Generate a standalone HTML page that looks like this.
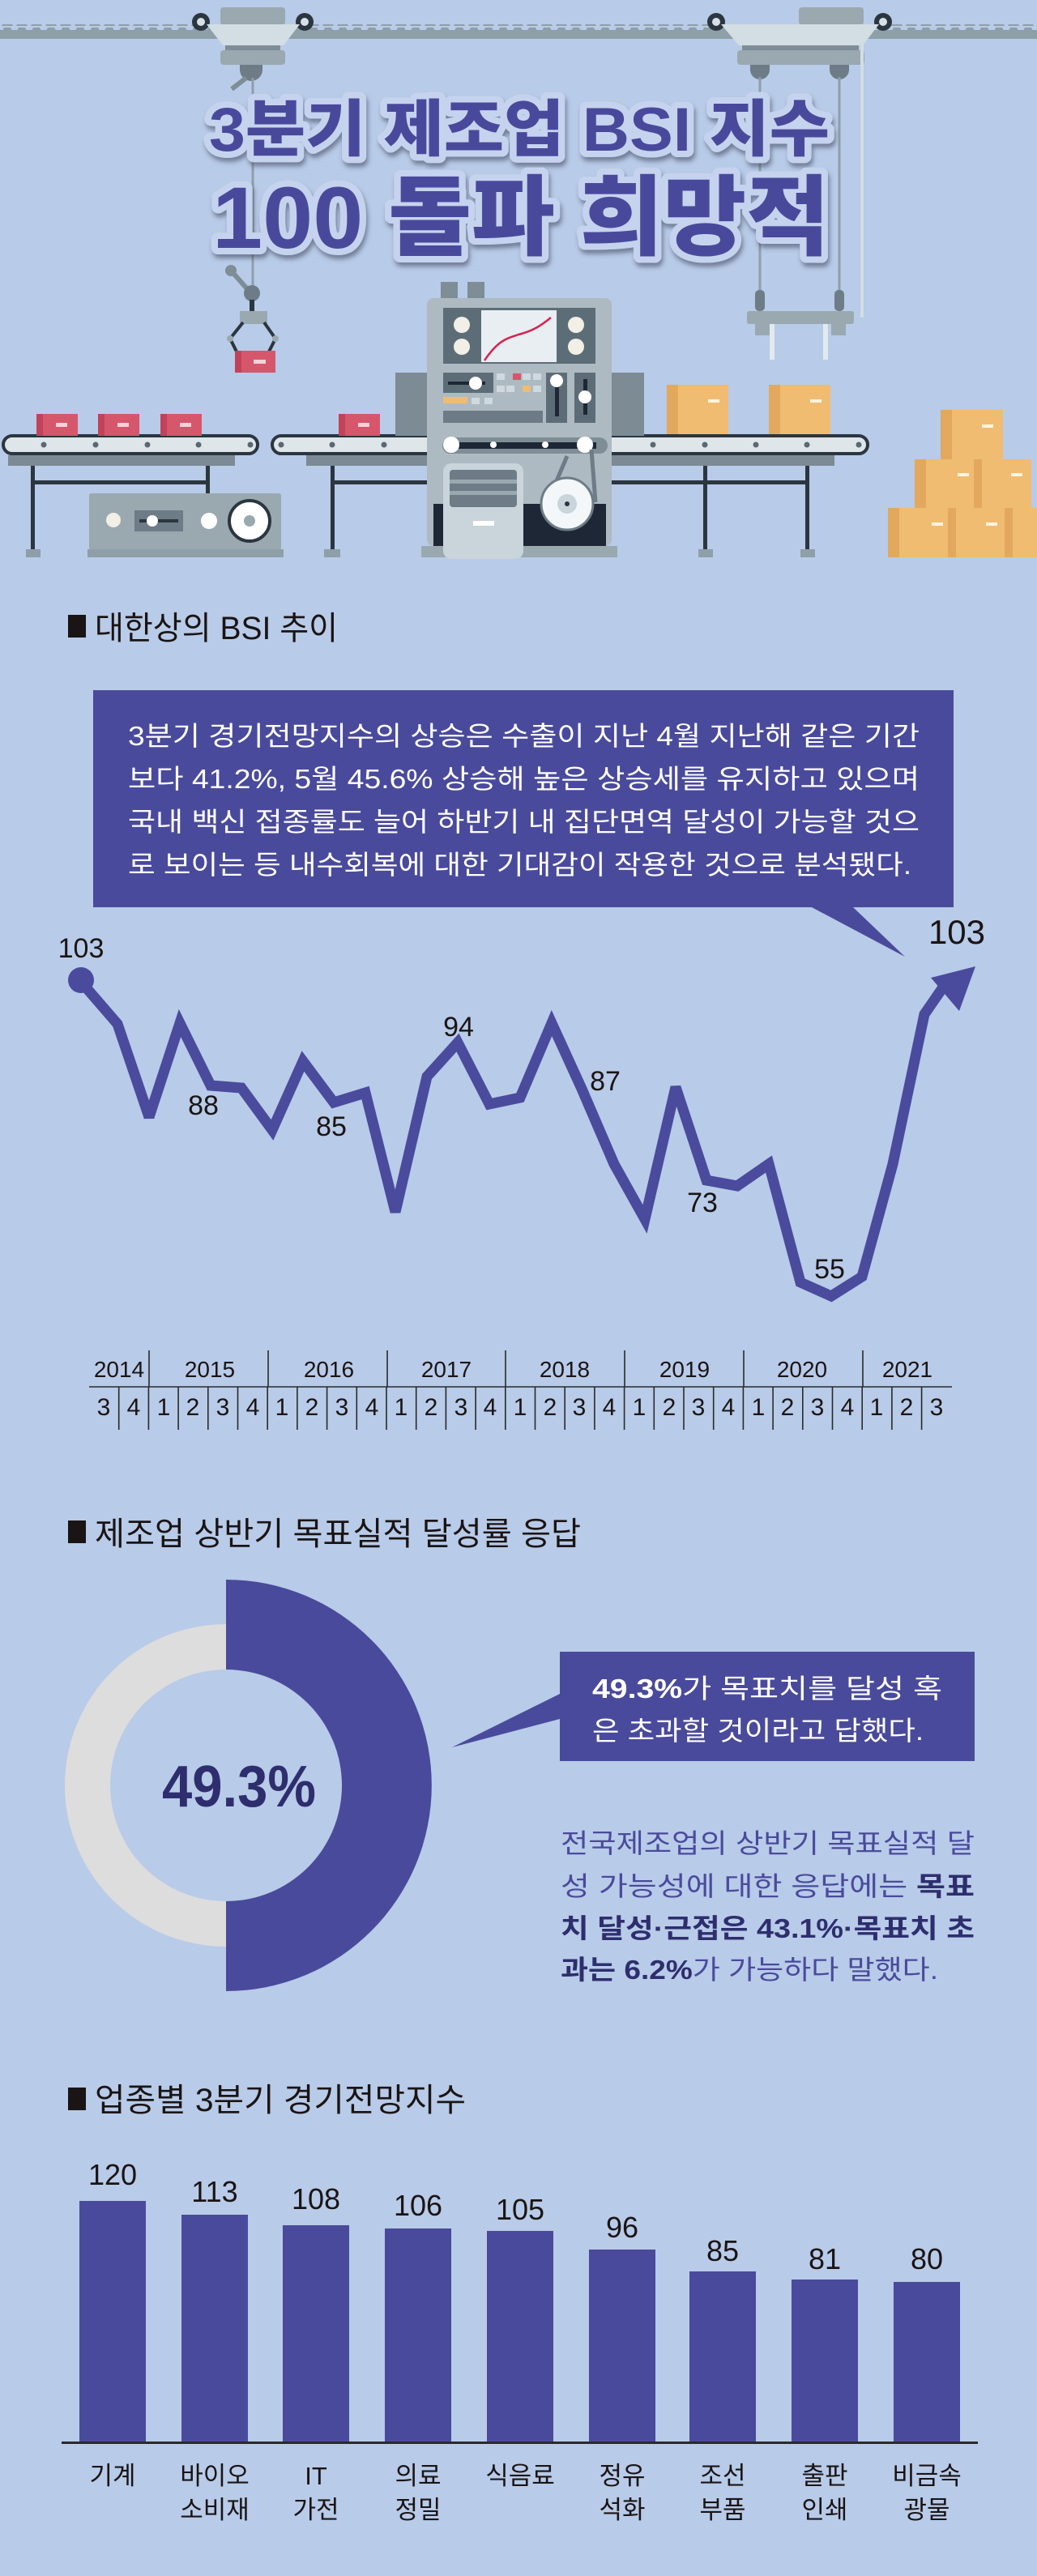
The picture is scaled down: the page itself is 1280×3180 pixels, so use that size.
<!DOCTYPE html>
<html><head><meta charset="utf-8"><style>
html,body{margin:0;padding:0;background:#b8cbe8;}
svg{display:block;}
.k{font-family:"Liberation Sans","Noto Sans CJK KR",sans-serif;}
.n{font-family:"Liberation Sans Narrow","Liberation Sans","Noto Sans CJK KR",sans-serif;}
</style></head><body>
<svg width="1280" height="3180" viewBox="0 0 1280 3180" xmlns="http://www.w3.org/2000/svg">
<defs>
<filter id="sh" x="-10%" y="-20%" width="120%" height="150%"><feDropShadow dx="2" dy="5" stdDeviation="3" flood-color="#3a3f55" flood-opacity="0.55"/></filter>
<pattern id="sc" x="0" y="0" width="18" height="8" patternUnits="userSpaceOnUse"><path d="M2 8 L5 2 L13 2 L16 8Z" fill="#8e9fa8"/></pattern>
</defs>
<rect width="1280" height="3180" fill="#b8cbe8"/>

<!-- ===== HEADER ILLUSTRATION ===== -->
<rect x="0" y="30" width="1280" height="8" fill="url(#sc)"/>
<rect x="0" y="37" width="1280" height="11" fill="#8e9fa8"/>
<!-- left trolley -->
<rect x="272" y="9" width="80" height="22" rx="4" fill="#9aa9b0"/>
<circle cx="248" cy="27" r="11" fill="#2b3640"/><circle cx="248" cy="27" r="5" fill="#d6e0e6"/>
<circle cx="376" cy="27" r="11" fill="#2b3640"/><circle cx="376" cy="27" r="5" fill="#d6e0e6"/>
<path d="M255 30 L370 30 L350 56 L275 56Z" fill="#d3dde4"/>
<rect x="278" y="56" width="68" height="6" fill="#7e8d96"/>
<rect x="272" y="62" width="80" height="18" rx="4" fill="#9aa9b0"/>
<path d="M296 80 h28 v6 a14 14 0 0 1 -28 0z" fill="#6d7c86"/>
<line x1="304" y1="96" x2="286" y2="110" stroke="#7e8d96" stroke-width="6"/>
<line x1="312" y1="96" x2="312" y2="365" stroke="#8e9fa8" stroke-width="3"/>
<circle cx="285" cy="334" r="7" fill="#7e8d96"/>
<line x1="286" y1="335" x2="308" y2="360" stroke="#7e8d96" stroke-width="6"/>
<circle cx="311" cy="362" r="10" fill="#6d7c86"/>
<rect x="308" y="370" width="6" height="14" fill="#2b3640"/>
<rect x="296" y="384" width="34" height="16" fill="#9aa9b0"/>
<path d="M300 398 L284 418 L295 440 M326 398 L340 418 L330 438" fill="none" stroke="#2b3640" stroke-width="4"/>
<circle cx="284" cy="418" r="4" fill="#9aa9b0"/><circle cx="340" cy="418" r="4" fill="#9aa9b0"/>
<rect x="290" y="433" width="50" height="27" fill="#d6566b"/><rect x="290" y="433" width="8" height="27" fill="#c24259"/>
<rect x="313" y="444" width="15" height="5" fill="#f4d2d8"/>
<!-- right trolley -->
<rect x="986" y="9" width="80" height="22" rx="4" fill="#9aa9b0"/>
<circle cx="884" cy="27" r="11" fill="#2b3640"/><circle cx="884" cy="27" r="5" fill="#d6e0e6"/>
<circle cx="1090" cy="27" r="11" fill="#2b3640"/><circle cx="1090" cy="27" r="5" fill="#d6e0e6"/>
<path d="M890 30 L1085 30 L1065 56 L912 56Z" fill="#d3dde4"/>
<rect x="916" y="56" width="144" height="6" fill="#7e8d96"/>
<rect x="910" y="62" width="157" height="18" rx="4" fill="#9aa9b0"/>
<path d="M926 80 h24 v6 a12 12 0 0 1 -24 0z" fill="#6d7c86"/>
<path d="M1024 80 h24 v6 a12 12 0 0 1 -24 0z" fill="#6d7c86"/>
<line x1="938" y1="95" x2="938" y2="370" stroke="#8e9fa8" stroke-width="3"/>
<line x1="1036" y1="95" x2="1036" y2="370" stroke="#8e9fa8" stroke-width="3"/>
<line x1="1064" y1="40" x2="1064" y2="392" stroke="#d3dde4" stroke-width="4"/>
<rect x="932" y="358" width="12" height="26" rx="5" fill="#6d7c86"/>
<rect x="1030" y="358" width="12" height="26" rx="5" fill="#6d7c86"/>
<rect x="922" y="384" width="132" height="16" rx="3" fill="#9aa9b0"/>
<rect x="932" y="400" width="18" height="14" fill="#9aa9b0"/><rect x="1026" y="400" width="18" height="14" fill="#9aa9b0"/>
<rect x="950" y="400" width="6" height="44" fill="#e3eaef"/><rect x="1016" y="400" width="6" height="44" fill="#e3eaef"/>

<!-- title -->
<g filter="url(#sh)" font-weight="900" class="k" fill="#4a4a9c" stroke="#c6d3ee" stroke-width="16" stroke-linejoin="round" paint-order="stroke">
<text x="258" y="186" font-size="76" textLength="766" lengthAdjust="spacingAndGlyphs">3분기 제조업 BSI 지수</text>
<text x="262" y="306" font-size="108" textLength="762" lengthAdjust="spacingAndGlyphs">100 돌파 희망적</text>
</g>

<!-- conveyors -->
<rect x="4" y="538" width="314" height="22" rx="11" fill="#dfe6ea" stroke="#2b3640" stroke-width="4"/>
<rect x="10" y="562" width="280" height="13" fill="#7b8a94"/>
<g fill="#5a6872"><circle cx="54" cy="549" r="3.5"/><circle cx="118" cy="549" r="3.5"/><circle cx="182" cy="549" r="3.5"/><circle cx="245" cy="549" r="3.5"/><circle cx="309" cy="549" r="3.5"/></g>
<rect x="38" y="575" width="5" height="108" fill="#2b3640"/><rect x="254" y="575" width="5" height="60" fill="#2b3640"/>
<rect x="40" y="593" width="218" height="5" fill="#2b3640"/>
<rect x="32" y="678" width="18" height="10" fill="#8e9fa8"/>
<rect x="110" y="609" width="237" height="70" rx="3" fill="#9aa9b0"/>
<rect x="108" y="678" width="242" height="10" fill="#8e9fa8"/>
<circle cx="140" cy="642" r="9" fill="#f1efe6"/>
<rect x="166" y="630" width="60" height="26" fill="#6d7c86"/><rect x="172" y="641" width="48" height="4" fill="#2b3640"/><circle cx="188" cy="643" r="7" fill="#fff"/>
<circle cx="308" cy="643" r="25" fill="#fff" stroke="#2b3640" stroke-width="4"/><circle cx="308" cy="643" r="7" fill="#9aa9b0"/>
<circle cx="258" cy="643" r="10" fill="#fff"/>
<rect x="336" y="538" width="735" height="22" rx="11" fill="#dfe6ea" stroke="#2b3640" stroke-width="4"/>
<rect x="378" y="562" width="652" height="13" fill="#7b8a94"/>
<g fill="#5a6872"><circle cx="347" cy="549" r="3.5"/><circle cx="410" cy="549" r="3.5"/><circle cx="474" cy="549" r="3.5"/><circle cx="806" cy="549" r="3.5"/><circle cx="870" cy="549" r="3.5"/><circle cx="933" cy="549" r="3.5"/><circle cx="996" cy="549" r="3.5"/><circle cx="1060" cy="549" r="3.5"/></g>
<rect x="408" y="575" width="5" height="108" fill="#2b3640"/><rect x="868" y="575" width="5" height="108" fill="#2b3640"/><rect x="994" y="575" width="5" height="108" fill="#2b3640"/>
<rect x="410" y="593" width="120" height="5" fill="#2b3640"/><rect x="755" y="593" width="240" height="5" fill="#2b3640"/>
<rect x="400" y="678" width="20" height="10" fill="#8e9fa8"/><rect x="862" y="678" width="18" height="10" fill="#8e9fa8"/><rect x="988" y="678" width="18" height="10" fill="#8e9fa8"/>
<!-- pink boxes -->
<g><rect x="45" y="511" width="51" height="27" fill="#d6566b"/><rect x="45" y="511" width="8" height="27" fill="#c24259"/><rect x="69" y="522" width="14" height="5" fill="#f4d2d8"/>
<rect x="121" y="511" width="51" height="27" fill="#d6566b"/><rect x="121" y="511" width="8" height="27" fill="#c24259"/><rect x="145" y="522" width="14" height="5" fill="#f4d2d8"/>
<rect x="198" y="511" width="51" height="27" fill="#d6566b"/><rect x="198" y="511" width="8" height="27" fill="#c24259"/><rect x="222" y="522" width="14" height="5" fill="#f4d2d8"/>
<rect x="418" y="511" width="51" height="27" fill="#d6566b"/><rect x="418" y="511" width="8" height="27" fill="#c24259"/><rect x="442" y="522" width="14" height="5" fill="#f4d2d8"/></g>
<!-- cardboard boxes -->
<g fill="#efbc72"><rect x="823" y="475" width="76" height="61"/><rect x="949" y="475" width="76" height="61"/>
<rect x="1161" y="506" width="77" height="61"/><rect x="1129" y="567" width="144" height="60"/><rect x="1096" y="627" width="184" height="61"/></g>
<g fill="#e2a95e"><rect x="823" y="475" width="14" height="61"/><rect x="949" y="475" width="14" height="61"/><rect x="1161" y="506" width="14" height="61"/><rect x="1129" y="567" width="14" height="60"/><rect x="1202" y="567" width="10" height="60"/><rect x="1096" y="627" width="14" height="61"/><rect x="1170" y="627" width="10" height="61"/><rect x="1240" y="627" width="10" height="61"/></g>
<g fill="#fff3df"><rect x="874" y="493" width="14" height="4"/><rect x="1000" y="493" width="14" height="4"/><rect x="1212" y="524" width="14" height="4"/><rect x="1182" y="584" width="14" height="4"/><rect x="1248" y="584" width="14" height="4"/><rect x="1150" y="645" width="14" height="4"/><rect x="1217" y="645" width="14" height="4"/></g>
<!-- machine -->
<rect x="544" y="348" width="21" height="20" fill="#7e8d96"/><rect x="577" y="348" width="21" height="20" fill="#7e8d96"/>
<rect x="488" y="460" width="45" height="78" fill="#7d8b94"/><rect x="750" y="460" width="45" height="78" fill="#7d8b94"/>
<rect x="527" y="368" width="228" height="306" rx="8" fill="#aebac1"/>
<rect x="535" y="622" width="213" height="52" fill="#1e2736"/>
<rect x="520" y="674" width="242" height="14" fill="#9aa9b0"/>
<rect x="547" y="380" width="188" height="69" fill="#5d6d78"/>
<rect x="594" y="383" width="93" height="64" fill="#e8eef2"/>
<path d="M598 445 C615 420 625 418 640 413 C660 408 670 400 680 392" fill="none" stroke="#d7234f" stroke-width="2.5"/>
<g fill="#f1efe6"><circle cx="570" cy="401" r="10"/><circle cx="570" cy="428" r="10"/><circle cx="711" cy="401" r="10"/><circle cx="711" cy="428" r="10"/></g>
<rect x="547" y="460" width="62" height="25" fill="#5d6d78"/><rect x="553" y="471" width="46" height="4" fill="#1e2736"/><circle cx="587" cy="473" r="8" fill="#fff"/>
<rect x="547" y="507" width="123" height="15" fill="#6c7b86"/>
<rect x="613" y="460" width="57" height="44" fill="#aebac1"/>
<g fill="#cfd9df"><rect x="613" y="461" width="10" height="8"/><rect x="633" y="461" width="10" height="8" fill="#d6566b"/><rect x="645" y="461" width="10" height="8"/><rect x="658" y="461" width="10" height="8"/><rect x="613" y="476" width="10" height="8"/><rect x="625" y="476" width="10" height="8"/><rect x="645" y="476" width="10" height="8" fill="#efbc72"/><rect x="658" y="476" width="10" height="8"/><rect x="547" y="490" width="30" height="8" fill="#efbc72"/><rect x="582" y="491" width="10" height="8"/><rect x="598" y="491" width="10" height="8"/></g>
<rect x="674" y="460" width="26" height="62" fill="#5d6d78"/><rect x="685" y="470" width="5" height="44" fill="#1e2736"/><circle cx="687" cy="470" r="8" fill="#fff"/>
<rect x="709" y="460" width="26" height="62" fill="#5d6d78"/><rect x="720" y="468" width="5" height="44" fill="#1e2736"/><circle cx="722" cy="490" r="8" fill="#fff"/>
<rect x="546" y="540" width="204" height="20" rx="10" fill="#7e8d96"/>
<rect x="556" y="546" width="180" height="8" fill="#1e2736"/>
<circle cx="557" cy="549" r="10" fill="#fff"/><circle cx="722" cy="549" r="10" fill="#fff"/><circle cx="609" cy="549" r="4" fill="#fff"/><circle cx="673" cy="549" r="4" fill="#fff"/>
<path d="M700 563 L680 610 M730 555 L735 620" stroke="#6d7c86" stroke-width="5"/>
<circle cx="700" cy="622" r="32" fill="#f4f7f9" stroke="#6d7c86" stroke-width="3"/><circle cx="700" cy="622" r="12" fill="#c9d4db"/><circle cx="700" cy="622" r="3" fill="#2b3640"/>
<rect x="547" y="572" width="99" height="118" rx="10" fill="#c9d4db"/>
<rect x="555" y="580" width="83" height="46" rx="4" fill="#6d7c86"/>
<rect x="555" y="592" width="83" height="5" fill="#9aa9b0"/><rect x="555" y="606" width="83" height="5" fill="#9aa9b0"/>
<rect x="584" y="643" width="26" height="6" fill="#fff"/>

<!-- ===== SECTION 1 ===== -->
<rect x="84" y="759" width="22" height="28" fill="#1a1414"/>
<text x="117" y="789" font-size="40" class="k" fill="#1a1414" textLength="300" lengthAdjust="spacingAndGlyphs">대한상의 BSI 추이</text>
<path d="M115 852 H1177 V1120 H1053 L1117 1181 L1002 1120 H115Z" fill="#4a4a9c"/>
<g class="k" fill="#fff" font-size="33">
<text x="158" y="920" textLength="977" lengthAdjust="spacingAndGlyphs">3분기 경기전망지수의 상승은 수출이 지난 4월 지난해 같은 기간</text>
<text x="158" y="973" textLength="977" lengthAdjust="spacingAndGlyphs">보다 41.2%, 5월 45.6% 상승해 높은 상승세를 유지하고 있으며</text>
<text x="158" y="1026" textLength="977" lengthAdjust="spacingAndGlyphs">국내 백신 접종률도 늘어 하반기 내 집단면역 달성이 가능할 것으</text>
<text x="158" y="1079" textLength="967" lengthAdjust="spacingAndGlyphs">로 보이는 등 내수회복에 대한 기대감이 작용한 것으로 분석됐다.</text>
</g>
<!-- line chart -->
<polyline fill="none" stroke="#4a4b9d" stroke-width="13" stroke-linejoin="miter" stroke-miterlimit="3"
points="100,1212 145,1264 184,1379 222,1263 260,1340 298,1343 336,1395 374,1310 412,1361 451,1349 488,1496 527,1329 565,1287 604,1363 642,1355 681,1263 718,1344 758,1437 796,1505 834,1342 872,1457 910,1464 949,1437 988,1583 1026,1600 1064,1576 1102,1437 1141,1252 1168,1213"/>
<circle cx="100" cy="1210" r="16" fill="#4a4b9d"/>
<polygon points="1149,1207 1204,1193 1184,1248" fill="#4a4b9d"/>
<g class="n" fill="#1a1414" font-size="34" text-anchor="middle">
<text x="100" y="1182">103</text>
<text x="1181" y="1165" font-size="42">103</text>
<text x="251" y="1376">88</text>
<text x="409" y="1402">85</text>
<text x="566" y="1279">94</text>
<text x="747" y="1346">87</text>
<text x="867" y="1496">73</text>
<text x="1024" y="1578">55</text>
</g>
<!-- axis table -->
<g stroke="#2a2a2a" stroke-width="1.6">
<line x1="110" y1="1712" x2="1175" y2="1712"/>
<line x1="184" y1="1667" x2="184" y2="1712"/><line x1="331" y1="1667" x2="331" y2="1712"/><line x1="478" y1="1667" x2="478" y2="1712"/><line x1="624" y1="1667" x2="624" y2="1712"/><line x1="771" y1="1667" x2="771" y2="1712"/><line x1="918" y1="1667" x2="918" y2="1712"/><line x1="1065" y1="1667" x2="1065" y2="1712"/>
<path d="M146.7 1712V1765M183.4 1712V1765M220.1 1712V1765M256.8 1712V1765M293.5 1712V1765M330.2 1712V1765M366.9 1712V1765M403.6 1712V1765M440.3 1712V1765M477 1712V1765M513.7 1712V1765M550.4 1712V1765M587.1 1712V1765M623.8 1712V1765M660.5 1712V1765M697.2 1712V1765M733.9 1712V1765M770.6 1712V1765M807.3 1712V1765M844 1712V1765M880.7 1712V1765M917.4 1712V1765M954.1 1712V1765M990.8 1712V1765M1027.5 1712V1765M1064.2 1712V1765M1100.9 1712V1765M1137.6 1712V1765"/>
</g>
<g class="n" fill="#1a1414" font-size="28" text-anchor="middle">
<text x="147" y="1700">2014</text><text x="259" y="1700">2015</text><text x="406" y="1700">2016</text><text x="551" y="1700">2017</text><text x="697" y="1700">2018</text><text x="845" y="1700">2019</text><text x="990" y="1700">2020</text><text x="1120" y="1700">2021</text>
</g>
<g class="n" fill="#1a1414" font-size="30" text-anchor="middle">
<text x="128" y="1747">3</text><text x="165" y="1747">4</text><text x="202" y="1747">1</text><text x="238" y="1747">2</text><text x="275" y="1747">3</text><text x="312" y="1747">4</text><text x="348" y="1747">1</text><text x="385" y="1747">2</text><text x="422" y="1747">3</text><text x="459" y="1747">4</text><text x="495" y="1747">1</text><text x="532" y="1747">2</text><text x="569" y="1747">3</text><text x="605" y="1747">4</text><text x="642" y="1747">1</text><text x="679" y="1747">2</text><text x="715" y="1747">3</text><text x="752" y="1747">4</text><text x="789" y="1747">1</text><text x="826" y="1747">2</text><text x="862" y="1747">3</text><text x="899" y="1747">4</text><text x="936" y="1747">1</text><text x="972" y="1747">2</text><text x="1009" y="1747">3</text><text x="1046" y="1747">4</text><text x="1082" y="1747">1</text><text x="1119" y="1747">2</text><text x="1156" y="1747">3</text>
</g>

<!-- ===== SECTION 2 ===== -->
<rect x="84" y="1877" width="22" height="28" fill="#1a1414"/>
<text x="117" y="1907" font-size="40" class="k" fill="#1a1414" textLength="600" lengthAdjust="spacingAndGlyphs">제조업 상반기 목표실적 달성률 응답</text>
<path d="M279 2005 A199 199 0 0 0 279 2403 L279 2347 A143 143 0 0 1 279 2061Z" fill="#dddddd"/>
<path d="M279 1950 A254 254 0 0 1 279 2458 L279 2347 A143 143 0 0 0 279 2061Z" fill="#4a4a9c"/>
<text x="295" y="2230" text-anchor="middle" font-size="72" class="n" fill="#2e2e6e" font-weight="bold" textLength="190" lengthAdjust="spacingAndGlyphs">49.3%</text>
<path d="M691 2039 H1203 V2174 H691 V2122 L558 2157 L691 2091Z" fill="#4a4a9c"/>
<g class="k" fill="#fff" font-size="33">
<text x="731" y="2096" textLength="432" lengthAdjust="spacingAndGlyphs"><tspan font-weight="bold">49.3%</tspan>가 목표치를 달성 혹</text>
<text x="731" y="2148" textLength="409" lengthAdjust="spacingAndGlyphs">은 초과할 것이라고 답했다.</text>
</g>
<g class="k" fill="#4a4a9c" font-size="33">
<text x="692" y="2287" textLength="511" lengthAdjust="spacingAndGlyphs">전국제조업의 상반기 목표실적 달</text>
<text x="692" y="2340" textLength="511" lengthAdjust="spacingAndGlyphs">성 가능성에 대한 응답에는 <tspan font-weight="bold" fill="#2e2e6e">목표</tspan></text>
<text x="692" y="2392" textLength="511" lengthAdjust="spacingAndGlyphs" font-weight="bold" fill="#2e2e6e">치 달성·근접은 43.1%·목표치 초</text>
<text x="692" y="2443" textLength="466" lengthAdjust="spacingAndGlyphs"><tspan font-weight="bold" fill="#2e2e6e">과는 6.2%</tspan>가 가능하다 말했다.</text>
</g>

<!-- ===== SECTION 3 ===== -->
<rect x="84" y="2577" width="22" height="28" fill="#1a1414"/>
<text x="117" y="2606" font-size="40" class="k" fill="#1a1414" textLength="458" lengthAdjust="spacingAndGlyphs">업종별 3분기 경기전망지수</text>
<g fill="#4a4a9c">
<rect x="98" y="2717" width="82" height="299"/><rect x="224" y="2734" width="82" height="282"/><rect x="349" y="2747" width="82" height="269"/><rect x="475" y="2751" width="82" height="265"/><rect x="601" y="2754" width="82" height="262"/><rect x="727" y="2777" width="82" height="239"/><rect x="851" y="2804" width="82" height="212"/><rect x="977" y="2814" width="82" height="202"/><rect x="1103" y="2817" width="82" height="199"/>
</g>
<rect x="76" y="3014" width="1131" height="3" fill="#2a2a2a"/>
<g class="n" fill="#1a1414" font-size="36" text-anchor="middle">
<text x="139" y="2697">120</text><text x="265" y="2718">113</text><text x="390" y="2727">108</text><text x="516" y="2735">106</text><text x="642" y="2740">105</text><text x="768" y="2762">96</text><text x="892" y="2791">85</text><text x="1018" y="2801">81</text><text x="1144" y="2801">80</text>
</g>
<g class="k" fill="#1a1414" font-size="31" text-anchor="middle">
<text x="139" y="3067">기계</text>
<text x="265" y="3067">바이오</text><text x="265" y="3109">소비재</text>
<text x="390" y="3067">IT</text><text x="390" y="3109">가전</text>
<text x="516" y="3067">의료</text><text x="516" y="3109">정밀</text>
<text x="642" y="3067">식음료</text>
<text x="768" y="3067">정유</text><text x="768" y="3109">석화</text>
<text x="892" y="3067">조선</text><text x="892" y="3109">부품</text>
<text x="1018" y="3067">출판</text><text x="1018" y="3109">인쇄</text>
<text x="1144" y="3067">비금속</text><text x="1144" y="3109">광물</text>
</g>
</svg>
</body></html>
